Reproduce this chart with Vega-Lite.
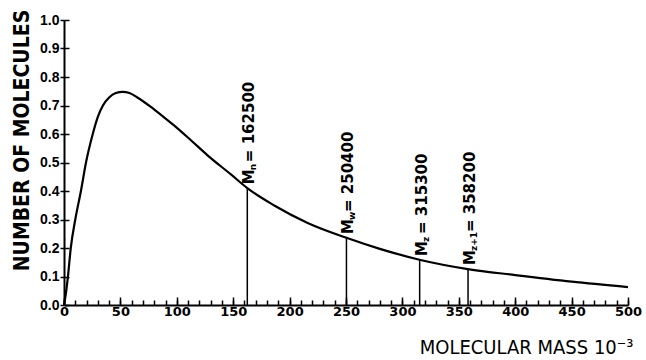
{
  "$schema": "https://vega.github.io/schema/vega-lite/v6.json",
  "autosize": "none",
  "padding": {"left": 64, "top": 20, "right": 18, "bottom": 55},
  "width": 564,
  "height": 285,
  "background": "white",
  "config": {
    "view": {"stroke": null},
    "axis": {"grid": false, "domainColor": "black", "tickColor": "black", "labelColor": "black", "titleColor": "black"}
  },
  "datasets": {
    "curve": [
      {"mass": 0, "n": 0},
      {"mass": 2, "n": 0.05},
      {"mass": 3.5, "n": 0.1},
      {"mass": 6, "n": 0.2},
      {"mass": 10, "n": 0.3},
      {"mass": 15, "n": 0.4},
      {"mass": 19.5, "n": 0.5},
      {"mass": 25.5, "n": 0.6},
      {"mass": 30, "n": 0.66},
      {"mass": 34.5, "n": 0.7},
      {"mass": 40, "n": 0.728},
      {"mass": 46, "n": 0.744},
      {"mass": 52, "n": 0.748},
      {"mass": 58, "n": 0.744},
      {"mass": 65, "n": 0.728},
      {"mass": 77, "n": 0.695},
      {"mass": 87, "n": 0.664},
      {"mass": 97, "n": 0.632},
      {"mass": 112, "n": 0.58},
      {"mass": 127, "n": 0.526},
      {"mass": 148, "n": 0.458},
      {"mass": 162.5, "n": 0.41},
      {"mass": 186, "n": 0.35},
      {"mass": 216, "n": 0.288},
      {"mass": 251, "n": 0.235},
      {"mass": 280, "n": 0.197},
      {"mass": 316, "n": 0.158},
      {"mass": 358, "n": 0.126},
      {"mass": 400, "n": 0.105},
      {"mass": 450, "n": 0.082},
      {"mass": 500, "n": 0.063}
    ],
    "moments": [
      {"mass": 162.5, "top": 0.41, "sub": "n", "rest": "= 162500"},
      {"mass": 250.4, "top": 0.235, "sub": "w", "rest": "= 250400"},
      {"mass": 315.3, "top": 0.158, "sub": "z", "rest": "= 315300"},
      {"mass": 358.2, "top": 0.126, "sub": "z+1", "rest": "= 358200"}
    ]
  },
  "resolve": {"axis": {"x": "independent", "y": "independent"}},
  "layer": [
    {
      "data": {"name": "curve"},
      "mark": {"type": "line", "color": "black", "strokeWidth": 2.2, "interpolate": "monotone"},
      "encoding": {
        "x": {
          "field": "mass", "type": "quantitative",
          "scale": {"domain": [0, 500], "nice": false},
          "axis": {
            "orient": "bottom",
            "values": [0,10,20,30,40,50,60,70,80,90,100,110,120,130,140,150,160,170,180,190,200,210,220,230,240,250,260,270,280,290,300,310,320,330,340,350,360,370,380,390,400,410,420,430,440,450,460,470,480,490,500],
            "labelExpr": "datum.value % 50 === 0 ? datum.value : ''",
            "tickSize": -5, "tickWidth": 1.5, "domainWidth": 2,
            "labelPadding": 5, "labelFont": "DejaVu Sans", "labelFontWeight": "bold", "labelFontSize": 13,
            "labelFlush": false, "labelOverlap": false,
            "title": "MOLECULAR MASS 10⁻³",
            "titleFont": "DejaVu Sans Condensed, Liberation Sans", "titleFontSize": 20, "titleFontWeight": "normal",
            "titleX": 569, "titleY": 48, "titleAlign": "right", "titleBaseline": "alphabetic"
          }
        },
        "y": {
          "field": "n", "type": "quantitative",
          "scale": {"domain": [0, 1], "nice": false},
          "axis": {
            "orient": "left",
            "values": [0,0.1,0.2,0.3,0.4,0.5,0.6,0.7,0.8,0.9,1.0],
            "format": ".1f",
            "tickSize": 4, "tickWidth": 1.5, "domainWidth": 2,
            "labelPadding": 1, "labelFont": "Liberation Sans", "labelFontWeight": "bold", "labelFontSize": 14,
            "labelFlush": false, "labelOverlap": false,
            "title": "NUMBER OF MOLECULES",
            "titleFont": "DejaVu Sans Condensed, Liberation Sans", "titleFontSize": 21, "titleFontWeight": "bold",
            "titleAngle": 270, "titleX": -42, "titleY": 120, "titleAlign": "center", "titleBaseline": "middle"
          }
        }
      }
    },
    {
      "data": {"name": "moments"},
      "mark": {"type": "rule", "color": "black", "strokeWidth": 1.5},
      "encoding": {
        "x": {
          "field": "mass", "type": "quantitative",
          "scale": {"domain": [0, 500], "nice": false},
          "axis": {"orient": "bottom", "values": [0,50,100,150,200,250,300,350,400,450,500], "tickSize": -8, "tickWidth": 1.5, "domain": false, "labels": false, "title": null}
        },
        "y": {
          "field": "top", "type": "quantitative",
          "scale": {"domain": [0, 1], "nice": false},
          "axis": {"orient": "left", "values": [0,0.1,0.2,0.3,0.4,0.5,0.6,0.7,0.8,0.9,1.0], "tickSize": -5, "tickWidth": 1.5, "domain": false, "labels": false, "title": null}
        },
        "y2": {"datum": 0}
      }
    },
    {
      "data": {"name": "moments"},
      "mark": {"type": "text", "text": "M", "angle": 270, "align": "left", "baseline": "middle", "dx": 4, "dy": 2, "font": "DejaVu Sans", "fontWeight": "bold", "fontSize": 15, "color": "black"},
      "encoding": {
        "x": {"field": "mass", "type": "quantitative", "axis": null},
        "y": {"field": "top", "type": "quantitative", "axis": null}
      }
    },
    {
      "data": {"name": "moments"},
      "mark": {"type": "text", "angle": 270, "align": "left", "baseline": "middle", "dx": 18, "dy": 6, "font": "DejaVu Sans", "fontWeight": "bold", "fontSize": 9, "color": "black"},
      "encoding": {
        "x": {"field": "mass", "type": "quantitative", "axis": null},
        "y": {"field": "top", "type": "quantitative", "axis": null},
        "text": {"field": "sub"}
      }
    },
    {
      "data": {"name": "moments"},
      "transform": [{"filter": "datum.sub !== 'z+1'"}],
      "mark": {"type": "text", "angle": 270, "align": "left", "baseline": "middle", "dx": 26, "dy": 2, "font": "DejaVu Sans", "fontWeight": "bold", "fontSize": 15, "color": "black"},
      "encoding": {
        "x": {"field": "mass", "type": "quantitative", "axis": null},
        "y": {"field": "top", "type": "quantitative", "axis": null},
        "text": {"field": "rest"}
      }
    },
    {
      "data": {"name": "moments"},
      "transform": [{"filter": "datum.sub === 'z+1'"}],
      "mark": {"type": "text", "angle": 270, "align": "left", "baseline": "middle", "dx": 37, "dy": 2, "font": "DejaVu Sans", "fontWeight": "bold", "fontSize": 15, "color": "black"},
      "encoding": {
        "x": {"field": "mass", "type": "quantitative", "axis": null},
        "y": {"field": "top", "type": "quantitative", "axis": null},
        "text": {"field": "rest"}
      }
    }
  ]
}
